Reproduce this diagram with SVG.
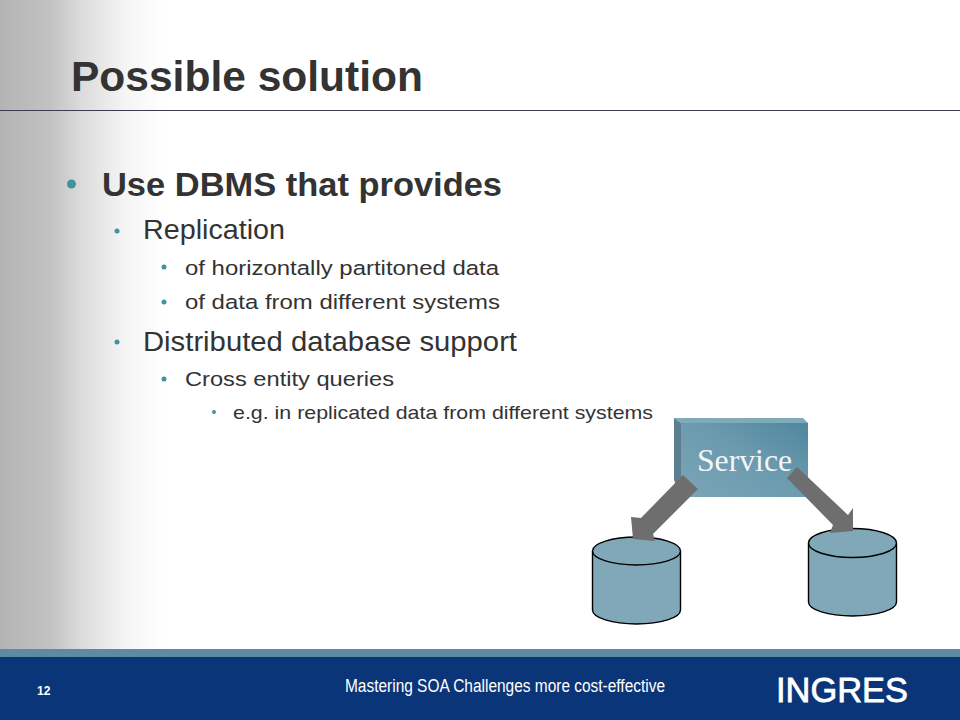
<svg xmlns="http://www.w3.org/2000/svg" width="960" height="720" viewBox="0 0 960 720">
<style>
.s{font-family:"Liberation Sans",Arial,sans-serif;fill:#333333}
.b{fill:#3f949f}
.cyl{fill:#81a8b9;stroke:#000;stroke-width:1.4}
.arr{fill:#6e6e6e}
</style>
<defs>
<linearGradient id="bg" x1="0" x2="1" y1="0" y2="0"><stop offset="0" stop-color="#b4b4b4"/><stop offset="0.3" stop-color="#c2c2c2"/><stop offset="0.5" stop-color="#dcdcdc"/><stop offset="0.75" stop-color="#f4f4f4"/><stop offset="1" stop-color="#ffffff"/></linearGradient>
<linearGradient id="box" x1="0" x2="1" y1="1" y2="0"><stop offset="0" stop-color="#7ba5b7"/><stop offset="0.55" stop-color="#6b9aae"/><stop offset="1" stop-color="#4f879e"/></linearGradient>
</defs>
<rect width="960" height="720" fill="#fff"/>
<rect id="side-shade" x="0" y="0" width="165" height="650" fill="url(#bg)"/>
<line id="title-rule" x1="0" y1="110.5" x2="960" y2="110.5" stroke="#3c3c50" stroke-width="1"/>
<text id="title" class="s" x="71" y="91" font-size="42.500" font-weight="bold" textLength="352" lengthAdjust="spacingAndGlyphs">Possible solution</text>

<g id="bullets">
<circle class="b" cx="71.500" cy="184" r="4.500"/>
<text class="s" x="102" y="196" font-size="34" font-weight="bold" textLength="400" lengthAdjust="spacingAndGlyphs">Use DBMS that provides</text>
<circle class="b" cx="117" cy="231" r="2.500"/>
<text class="s" x="143" y="239" font-size="27.500" textLength="142" lengthAdjust="spacingAndGlyphs">Replication</text>
<circle class="b" cx="164" cy="267" r="2.500"/>
<text class="s" x="185" y="275" font-size="20.500" textLength="314" lengthAdjust="spacingAndGlyphs">of horizontally partitoned data</text>
<circle class="b" cx="164" cy="302" r="2.500"/>
<text class="s" x="185" y="309" font-size="20.500" textLength="315" lengthAdjust="spacingAndGlyphs">of data from different systems</text>
<circle class="b" cx="117" cy="342" r="2.500"/>
<text class="s" x="143" y="351" font-size="27.500" textLength="374" lengthAdjust="spacingAndGlyphs">Distributed database support</text>
<circle class="b" cx="164" cy="379" r="2.500"/>
<text class="s" x="185" y="386" font-size="20.500" textLength="209" lengthAdjust="spacingAndGlyphs">Cross entity queries</text>
<circle class="b" cx="214" cy="412" r="2"/>
<text class="s" x="233" y="419" font-size="19" textLength="420" lengthAdjust="spacingAndGlyphs">e.g. in replicated data from different systems</text>
</g>

<g id="db-left">
<path class="cyl" d="M592.500 551V610A44 14 0 0 0 680.500 610V551"/>
<ellipse class="cyl" cx="636.500" cy="551" rx="44" ry="14"/>
</g>
<g id="db-right">
<path class="cyl" d="M808.500 543V602A44 14 0 0 0 896.500 602V543"/>
<ellipse class="cyl" cx="852.500" cy="543" rx="44" ry="14.500"/>
</g>
<g id="service">
<polygon points="674,418 803,418 808,423 681,423" fill="#80a9ba"/>
<polygon points="674,418 681,423 681,497 674,480" fill="#5c7f8f"/>
<rect x="681" y="423" width="127" height="74" fill="url(#box)"/>
<text x="697" y="471" font-family="Liberation Serif,Times New Roman,serif" font-size="32" fill="#f2f6f8" textLength="95" lengthAdjust="spacingAndGlyphs">Service</text>
</g>
<g id="connectors">
<polygon class="arr" points="683,475 698,489 653,534 655,541 633,539 631,517 641,518"/>
<polygon class="arr" points="797,467 787,478 833,525 830,533 853,531 853,508 848,515"/>
</g>

<g id="footer">
<rect x="0" y="649" width="960" height="8" fill="#5d8ca1"/>
<rect x="0" y="657" width="960" height="63" fill="#0a3578"/>
<text x="37" y="695" font-family="Liberation Sans,Arial,sans-serif" font-size="12" font-weight="bold" fill="#fff">12</text>
<text x="345" y="692" font-family="Liberation Sans,Arial,sans-serif" font-size="18" fill="#fff" textLength="320" lengthAdjust="spacingAndGlyphs">Mastering SOA Challenges more cost-effective</text>
<text x="776" y="702" font-family="Liberation Sans,Arial,sans-serif" font-size="35" fill="#fff" stroke="#fff" stroke-width="0.8" textLength="132" lengthAdjust="spacingAndGlyphs">INGRES</text>
</g>
</svg>
